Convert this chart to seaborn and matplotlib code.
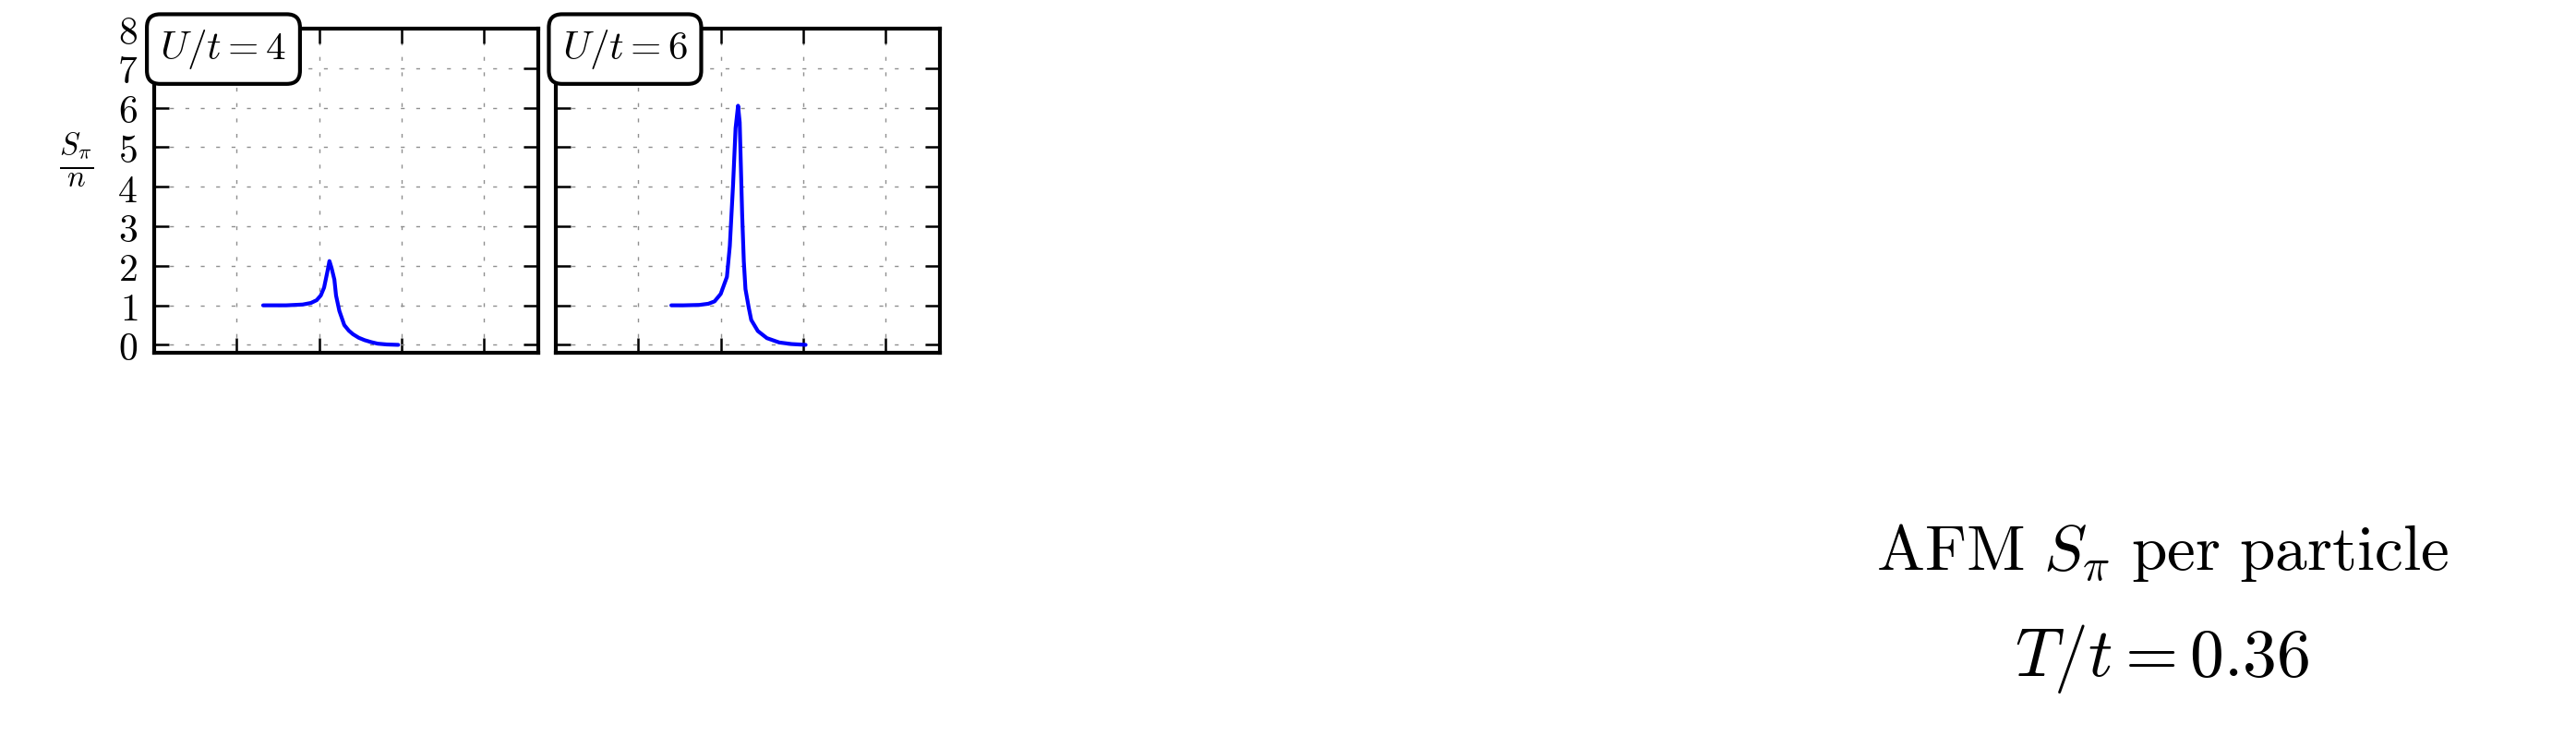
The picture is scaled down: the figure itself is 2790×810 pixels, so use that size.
import matplotlib
matplotlib.use("Agg")
import matplotlib.pyplot as plt
import seaborn as sns

# panel labels
panels = ["$U/t = 4$", "$U/t = 6$"]

# AFM structure factor per particle
x_u4 = [1.32, 1.45, 1.60, 1.70, 1.80, 1.90, 1.97, 2.02, 2.06, 2.10, 2.125, 2.15,
        2.185, 2.205, 2.245, 2.305, 2.36, 2.41, 2.48, 2.55, 2.63, 2.71, 2.82, 2.96]
y_u4 = [1.00, 1.00, 1.00, 1.01, 1.02, 1.06, 1.13, 1.25, 1.45, 1.85, 2.12, 1.95,
        1.65, 1.25, 0.86, 0.50, 0.36, 0.27, 0.18, 0.12, 0.07, 0.03, 0.01, 0.00]

x_u6 = [1.40, 1.55, 1.74, 1.85, 1.925, 2.00, 2.075, 2.11, 2.15, 2.18, 2.21, 2.23,
        2.24, 2.26, 2.28, 2.30, 2.34, 2.37, 2.45, 2.56, 2.71, 2.86, 3.03]
y_u6 = [1.00, 1.00, 1.01, 1.04, 1.10, 1.29, 1.72, 2.50, 4.07, 5.48, 6.05, 5.63,
        4.85, 3.29, 2.11, 1.41, 0.94, 0.63, 0.35, 0.17, 0.06, 0.02, 0.00]

x_ticks = [0, 1, 2, 3, 4]
y_ticks = [0, 1, 2, 3, 4, 5, 6, 7, 8]
y_tick_labels = ["0", "1", "2", "3", "4", "5", "6", "7", "8"]

sns.set_theme(style="ticks")
plt.rcParams["mathtext.fontset"] = "cm"
plt.rcParams["font.family"] = ["DejaVu Sans"]
plt.rcParams["text.color"] = "black"
plt.rcParams["axes.labelcolor"] = "black"
plt.rcParams["xtick.color"] = "black"
plt.rcParams["ytick.color"] = "black"

fig = plt.figure(figsize=(27.9, 8.1), dpi=100)
fig.patch.set_facecolor("white")

data = [(x_u4, y_u4), (x_u6, y_u6)]
lefts = [0.0599, 0.2158]

for i, (xs, ys) in enumerate(data):
    ax = fig.add_axes([lefts[i], 0.5284, 0.1491, 0.4333])
    sns.lineplot(x=xs, y=ys, ax=ax, color="#0000ff", linewidth=3.0)
    ax.set_xlim(0, 4.66)
    ax.set_ylim(-0.2, 8.0)
    ax.set_xticks(x_ticks)
    ax.set_yticks(y_ticks, labels=["$%s$" % s for s in y_tick_labels])
    ax.grid(True, color="#8f8f8f", linestyle=(0, (3, 9)), linewidth=1.0)
    ax.tick_params(direction="in", length=11.5, width=1.8, top=True, right=True,
                   labelbottom=False, pad=13, labelsize=30, colors="black")
    for sp in ax.spines.values():
        sp.set_linewidth(3.0)
        sp.set_color("black")
    if i == 0:
        ax.set_ylabel(r"$\frac{S_\pi}{n}$", rotation=0, fontsize=34,
                      ha="center", va="center", color="black")
        ax.yaxis.set_label_coords(-0.202, 0.595)
    else:
        ax.tick_params(labelleft=False)
    ax.text(0.180, 0.937, panels[i], transform=ax.transAxes, fontsize=31,
            ha="center", va="center", zorder=10, clip_on=False, color="black",
            bbox=dict(boxstyle="round,pad=0.33", facecolor="white",
                      edgecolor="black", linewidth=3.0))

fig.text(0.8394, 0.2383, r"$\mathrm{AFM}\ S_\pi\ \mathrm{per\ particle}$",
         ha="center", va="baseline", fontsize=50, color="black")
fig.text(0.8391, 0.0963, r"$T/t = 0.36$", ha="center", va="baseline",
         fontsize=53, color="black")

fig.savefig("out.png", dpi=100, facecolor="white")
